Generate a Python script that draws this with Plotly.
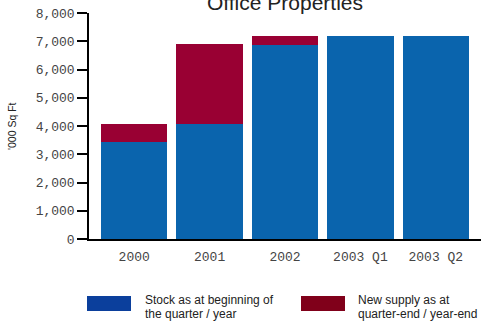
import plotly.graph_objects as go

# Office stock and new supply ('000 sq ft)
periods = ["2000", "2001", "2002", "2003 Q1", "2003 Q2"]
stock_begin = [3440, 4070, 6860, 7180, 7180]
new_supply = [630, 2820, 320, 0, 0]
y_ticks = [0, 1000, 2000, 3000, 4000, 5000, 6000, 7000, 8000]
y_tick_text = ["0", "1,000", "2,000", "3,000", "4,000", "5,000", "6,000", "7,000", "8,000"]

blue_bar = "#0A64AD"
red_bar = "#990033"
blue_key = "#0B3F9C"
red_key = "#80001A"
mono = "Liberation Mono, Courier New, monospace"
sans = "Liberation Sans, Arial, sans-serif"

PW, PH = 392, 226  # plot area size in px

fig = go.Figure()
fig.add_trace(go.Bar(x=periods, y=stock_begin, marker=dict(color=blue_bar, line=dict(width=0)),
                     showlegend=False))
fig.add_trace(go.Bar(x=periods, y=new_supply, marker=dict(color=red_bar, line=dict(width=0)),
                     showlegend=False))

fig.update_layout(
    width=481, height=322,
    margin=dict(l=89, r=0, t=13, b=83),
    paper_bgcolor="white", plot_bgcolor="white",
    barmode="stack", bargap=0.12,
    title=dict(text="Office Properties", x=285 / 481, xanchor="center",
               y=1 - 3 / 322, yanchor="middle", yref="container",
               font=dict(family=sans, size=21, color="#222")),
    xaxis=dict(range=[-0.6, 4.6], showline=True, linecolor="black", linewidth=1.5,
               ticks="", showgrid=False, zeroline=False, ticklabelstandoff=5,
               tickfont=dict(family=mono, size=13, color="#444")),
    yaxis=dict(range=[0, 8000], tickvals=y_ticks, ticktext=y_tick_text,
               showline=True, linecolor="black", linewidth=1.5,
               ticks="outside", ticklen=10, tickwidth=1.5, tickcolor="black",
               showgrid=False, zeroline=False,
               tickfont=dict(family=mono, size=13, color="#444")),
    font=dict(family=sans),
)

# Axis title
fig.add_annotation(xref="paper", yref="paper", x=-(89 - 12) / PW, y=0.5,
                   xanchor="center", yanchor="middle", textangle=-90, showarrow=False,
                   text="'000 Sq Ft", font=dict(family=sans, size=10.5, color="#222"))

# Legend keys drawn as wide swatches below the plot
fig.add_shape(type="rect", xref="paper", yref="paper",
              x0=-2 / PW, x1=42 / PW, y0=-72 / PH, y1=-57 / PH,
              fillcolor=blue_key, line=dict(width=0))
fig.add_shape(type="rect", xref="paper", yref="paper",
              x0=212 / PW, x1=256 / PW, y0=-72 / PH, y1=-57 / PH,
              fillcolor=red_key, line=dict(width=0))

legend_lines = [
    (54, ["Stock as at beginning of", "the quarter / year"]),
    (267, ["New supply as at", "quarter-end / year-end"]),
]
for x_px, lines in legend_lines:
    for i, line in enumerate(lines):
        fig.add_annotation(xref="paper", yref="paper", x=x_px / PW,
                           y=(239 - 300 - 13.5 * i) / PH,
                           xanchor="left", yanchor="middle", align="left", showarrow=False,
                           text=line, font=dict(family=sans, size=12, color="#222"))

fig.write_html("out.html")
